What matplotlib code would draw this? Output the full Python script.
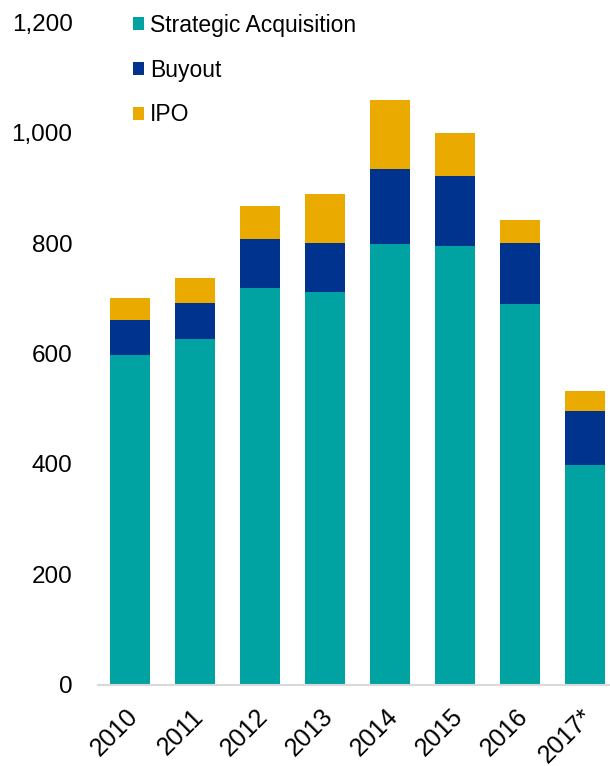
import matplotlib
matplotlib.use("Agg")
import matplotlib.pyplot as plt
from matplotlib.patches import Patch
from matplotlib.ticker import FuncFormatter
from matplotlib.transforms import ScaledTranslation

years = ["2010", "2011", "2012", "2013", "2014", "2015", "2016", "2017*"]
strategic = [597, 626, 719, 711, 798, 795, 690, 398]
buyout = [64, 65, 88, 89, 136, 126, 110, 98]
ipo = [39, 45, 60, 89, 125, 78, 42, 36]

series_names = ["Strategic Acquisition", "Buyout", "IPO"]
colors = ["#00A3A1", "#00338D", "#EAAA00"]

plt.rcParams['font.family'] = ['Liberation Sans', 'DejaVu Sans']

fig = plt.figure(figsize=(6.10, 7.66), dpi=100)
ax = fig.add_axes([0.160, 0.106, 0.852, 0.865])

x = list(range(len(years)))
w = 0.62
bottom2 = [a + b for a, b in zip(strategic, buyout)]
ax.bar(x, strategic, w, color=colors[0], zorder=2)
ax.bar(x, buyout, w, bottom=strategic, color=colors[1], zorder=2)
ax.bar(x, ipo, w, bottom=bottom2, color=colors[2], zorder=2)

ax.set_xlim(-0.5, len(years) - 0.5)
ax.set_ylim(0, 1200)
ax.set_yticks(range(0, 1201, 200))
ax.yaxis.set_major_formatter(FuncFormatter(lambda v, p: f"{int(v):,}"))
ax.set_xticks(x)
ax.set_xticklabels(years, rotation=45, ha='right', rotation_mode='anchor')
ax.tick_params(axis='both', length=0, colors='black')
ax.tick_params(axis='y', pad=18, labelsize=17.5)
ax.tick_params(axis='x', pad=14, labelsize=18)
shift = ScaledTranslation(-4 / 100, 0, fig.dpi_scale_trans)
for lbl in ax.get_xticklabels():
    lbl.set_transform(lbl.get_transform() + shift)
for s in ['top', 'right', 'left']:
    ax.spines[s].set_visible(False)
ax.spines['bottom'].set_color('#D9D9D9')
ax.spines['bottom'].set_linewidth(1.5)

handles = [Patch(facecolor=c, edgecolor='none') for c in colors]
fig.legend(handles, series_names, loc='upper left',
           bbox_to_anchor=(0.218, 0.982), frameon=False, fontsize=16.5,
           handlelength=0.5, handleheight=0.5, handletextpad=0.25,
           labelspacing=0.95, borderpad=0, borderaxespad=0)

fig.savefig("out.png", dpi=100)
